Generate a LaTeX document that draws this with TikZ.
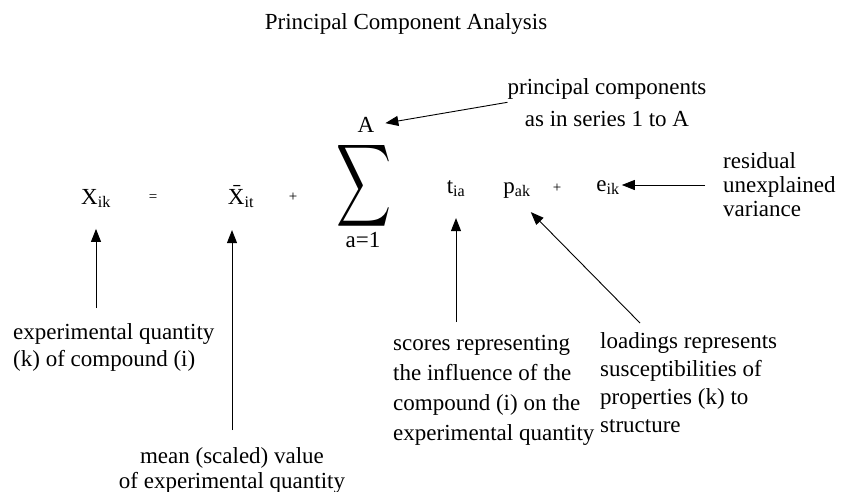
\documentclass[tikz,border=0pt]{standalone}
\usepackage{fontspec,graphicx}
\setmainfont{Liberation Serif}
\usetikzlibrary{arrows.meta,positioning}

\begin{document}
\begin{tikzpicture}[x=1pt,y=-1pt,inner sep=0pt,
  every node/.style={font=\fontsize{23}{30}\selectfont},
  small/.style={font=\fontsize{15}{17}\selectfont},
  pointer/.style={draw,line width=.9pt,-{Triangle[length=13pt,width=10pt]}}]
\useasboundingbox (0,0) rectangle (843,492);
\node (title) at (406,24) {Principal Component Analysis};
% the equation
\node[anchor=base] (xik) at (96,204) {X\textsubscript{ik}};
\node[small] (eq) at (153,198) {=};
\node[anchor=base] (xbar) at (241,204) {\={X}\textsubscript{it}};
\node[small] (plusa) at (293,197) {+};
\node (sum) at (364,186) {\resizebox{55pt}{82pt}{$\displaystyle\sum$}};
\node (upper) at (366,125) {A};
\node (lower) at (363,240) {a=1};
\node[anchor=base] (tia) at (456,193) {t\textsubscript{ia}};
\node[anchor=base] (pak) at (517,193) {p\textsubscript{ak}};
\node[small] (plusb) at (557,188) {+};
\node[anchor=base] (eik) at (608,191) {e\textsubscript{ik}};
% the notes
\node[align=center,anchor=north,font=\fontsize{23}{32}\selectfont] (pc) at (607,78) {principal components\\as in series 1 to A};
\node[align=left,anchor=west,font=\fontsize{23}{24}\selectfont] (resid) at (723,185) {residual\\unexplained\\variance};
\node[align=left,anchor=north west,font=\fontsize{23}{27}\selectfont] (expq) at (13,323) {experimental quantity\\(k) of compound (i)};
\node[align=center,anchor=north,font=\fontsize{23}{25}\selectfont] (meanq) at (232,447) {mean (scaled) value\\of experimental quantity};
\node[align=left,anchor=north west] (scores) at (393,335) {scores representing\\the influence of the\\compound (i) on the\\experimental quantity};
\node[align=left,anchor=north west,font=\fontsize{23}{28}\selectfont] (loadings) at (600,332) {loadings represents\\susceptibilities of\\properties (k) to\\structure};
% arrows
\draw[pointer,shorten >=11pt] (pc.west) -- (upper.east);
\draw[pointer,shorten <=18pt,shorten >=2pt] (resid.west) -- (resid.west -| eik.east);
\draw[pointer,shorten <=15pt,shorten >=21pt] (xik.south |- expq.north) -- (xik.south);
\draw[pointer,shorten <=17pt] (meanq.north) -- ([yshift=-22pt]meanq.north |- xbar.south);
\draw[pointer,shorten <=13pt,shorten >=21pt] (tia.south |- scores.north) -- (tia.south);
\draw[pointer] ([xshift=40pt,yshift=9pt]loadings.north west) -- ([yshift=-14pt]pak.south east);
\end{tikzpicture}
\end{document}
